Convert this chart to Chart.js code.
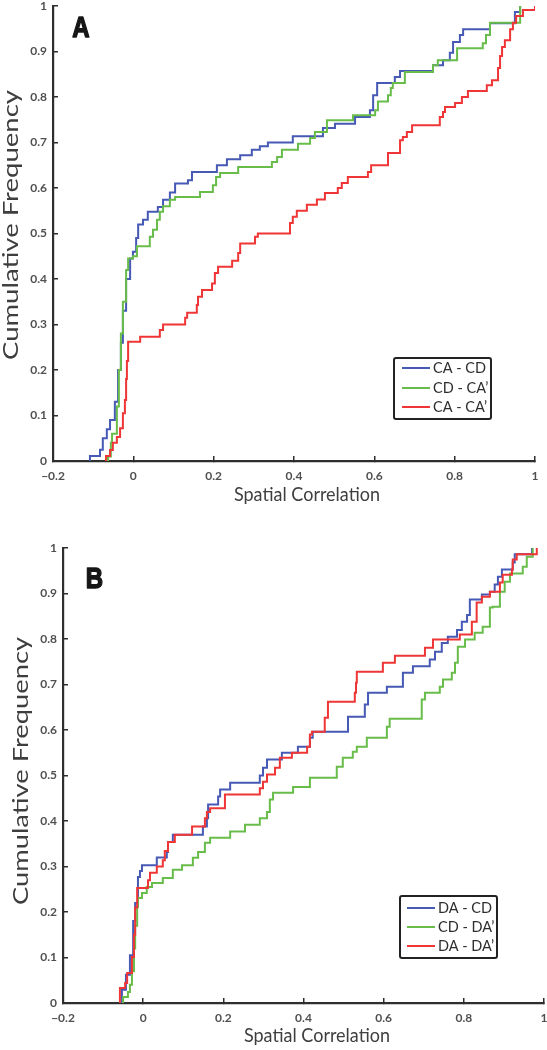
<!DOCTYPE html>
<html><head><meta charset="utf-8">
<script src="https://cdn.jsdelivr.net/npm/chart.js@4/dist/chart.umd.min.js"></script>
<style>
html,body{margin:0;padding:0;background:#fff;}
#wrap{position:relative;width:547px;height:1050px;overflow:hidden;background:#fff;}
canvas{position:absolute;left:0;}
</style></head><body>
<div id="wrap">
<canvas id="cA" width="547" height="520" style="top:0px"></canvas>
<canvas id="cB" width="547" height="530" style="top:520px"></canvas>
</div>
<script>
// ---- tick labels ----
const xTickLabels = ['\u22120.2', '0', '0.2', '0.4', '0.6', '0.8', '1'];
const yTickLabels = ['0', '0.1', '0.2', '0.3', '0.4', '0.5', '0.6', '0.7', '0.8', '0.9', '1'];

// ---- series labels ----
const labelsA = ['CA - CD', 'CD - CA\u2019', 'CA - CA\u2019'];
const labelsB = ['DA - CD', 'CD - DA\u2019', 'DA - DA\u2019'];

// ---- Panel A : CA - CD ----
const aCaCdX = [-0.108,-0.108,-0.083,-0.076,-0.066,-0.058,-0.046,-0.038,-0.031,-0.026,-0.018,-0.008,-0.001,0.007,0.012,0.024,0.036,0.061,0.074,0.091,0.104,0.136,0.146,0.208,0.233,0.266,0.295,0.315,0.335,0.397,0.472,0.502,0.552,0.589,0.597,0.607,0.651,0.664,0.746,0.771,0.788,0.796,0.813,0.821,0.888,0.950,0.963];
const aCaCdY = [0,0.011,0.025,0.05,0.07,0.09,0.13,0.2,0.26,0.33,0.40,0.445,0.46,0.49,0.52,0.53,0.548,0.558,0.574,0.59,0.61,0.617,0.635,0.65,0.663,0.672,0.684,0.692,0.70,0.714,0.732,0.741,0.756,0.771,0.804,0.831,0.844,0.857,0.87,0.881,0.897,0.921,0.936,0.949,0.962,0.987,1.0];
// ---- Panel A : CD - CA' ----
const aCdCaX = [-0.063,-0.063,-0.056,-0.053,-0.041,-0.036,-0.031,-0.026,-0.018,-0.013,-0.001,0.009,0.041,0.049,0.059,0.066,0.074,0.091,0.104,0.166,0.198,0.206,0.216,0.261,0.345,0.358,0.370,0.410,0.440,0.452,0.482,0.547,0.602,0.609,0.634,0.641,0.646,0.676,0.746,0.758,0.806,0.870,0.878,0.888,0.963];
const aCdCaY = [0,0.01,0.04,0.06,0.12,0.2,0.28,0.35,0.42,0.445,0.45,0.472,0.493,0.508,0.53,0.548,0.56,0.574,0.58,0.591,0.606,0.624,0.633,0.646,0.657,0.668,0.684,0.697,0.71,0.723,0.749,0.76,0.771,0.79,0.804,0.82,0.831,0.855,0.87,0.881,0.907,0.918,0.936,0.963,1.0];
// ---- Panel A : CA - CA' ----
const aCaCaX = [-0.068,-0.068,-0.058,-0.051,-0.041,-0.033,-0.026,-0.021,-0.018,-0.016,-0.013,0.017,0.066,0.074,0.129,0.134,0.158,0.161,0.171,0.196,0.203,0.211,0.246,0.261,0.266,0.303,0.310,0.390,0.397,0.407,0.432,0.457,0.477,0.509,0.519,0.534,0.584,0.592,0.634,0.664,0.671,0.681,0.694,0.763,0.771,0.776,0.801,0.818,0.833,0.880,0.893,0.908,0.913,0.918,0.925,0.938,0.945,0.953,0.970,1.0];
const aCaCaY = [0,0.011,0.024,0.04,0.053,0.072,0.105,0.134,0.18,0.22,0.262,0.273,0.288,0.3,0.315,0.326,0.343,0.361,0.376,0.39,0.413,0.427,0.44,0.457,0.478,0.493,0.5,0.523,0.537,0.55,0.563,0.575,0.589,0.6,0.611,0.624,0.635,0.65,0.677,0.705,0.712,0.723,0.738,0.756,0.767,0.778,0.787,0.8,0.813,0.826,0.837,0.864,0.89,0.91,0.925,0.949,0.963,0.978,0.991,1.0];

// ---- Panel B : DA - CD ----
const bDaCdX = [-0.053,-0.053,-0.043,-0.033,-0.025,-0.020,-0.013,-0.008,-0.003,0.034,0.059,0.062,0.074,0.149,0.159,0.162,0.187,0.192,0.217,0.291,0.299,0.309,0.346,0.386,0.416,0.423,0.511,0.553,0.561,0.608,0.648,0.673,0.715,0.728,0.745,0.760,0.783,0.795,0.808,0.815,0.845,0.865,0.877,0.885,0.895,0.922,0.927,0.970];
const bDaCdY = [0,0.029,0.062,0.105,0.18,0.22,0.277,0.29,0.303,0.32,0.332,0.354,0.37,0.388,0.406,0.436,0.454,0.469,0.484,0.50,0.517,0.535,0.55,0.563,0.583,0.596,0.629,0.656,0.682,0.695,0.726,0.74,0.755,0.772,0.791,0.805,0.82,0.838,0.853,0.887,0.898,0.904,0.92,0.937,0.953,0.968,0.986,1.0];
// ---- Panel B : CD - DA' ----
const bCdDaX = [-0.050,-0.050,-0.038,-0.033,-0.028,-0.023,-0.020,-0.015,-0.013,-0.003,0.009,0.022,0.049,0.074,0.097,0.124,0.137,0.154,0.167,0.217,0.254,0.291,0.309,0.316,0.324,0.374,0.416,0.483,0.498,0.523,0.533,0.558,0.608,0.615,0.695,0.703,0.740,0.748,0.770,0.778,0.785,0.803,0.827,0.847,0.865,0.872,0.890,0.902,0.915,0.947,0.957,0.972];
const bCdDaY = [0,0.013,0.024,0.04,0.07,0.12,0.17,0.211,0.231,0.242,0.255,0.264,0.275,0.293,0.303,0.319,0.332,0.352,0.363,0.377,0.392,0.406,0.42,0.447,0.462,0.475,0.495,0.519,0.539,0.552,0.563,0.583,0.607,0.625,0.667,0.682,0.695,0.711,0.726,0.748,0.783,0.799,0.814,0.827,0.869,0.871,0.904,0.926,0.944,0.959,0.981,1.0];
// ---- Panel B : DA - DA' ----
const bDaDaX = [-0.058,-0.058,-0.045,-0.040,-0.028,-0.023,-0.020,-0.015,0.012,0.017,0.034,0.049,0.054,0.062,0.079,0.122,0.154,0.159,0.167,0.204,0.291,0.299,0.309,0.329,0.341,0.371,0.409,0.416,0.421,0.453,0.461,0.528,0.531,0.533,0.598,0.628,0.703,0.723,0.790,0.820,0.832,0.845,0.865,0.890,0.897,0.920,0.922,0.932,0.982];
const bDaDaY = [0,0.033,0.044,0.066,0.101,0.15,0.21,0.253,0.27,0.286,0.3,0.314,0.334,0.354,0.37,0.388,0.406,0.42,0.428,0.458,0.472,0.486,0.502,0.517,0.539,0.55,0.563,0.59,0.596,0.627,0.662,0.682,0.704,0.728,0.748,0.763,0.781,0.799,0.81,0.838,0.88,0.893,0.904,0.924,0.941,0.953,0.975,0.986,1.0];

// ---- styling ----
const BLUE = '#4659b5', GREEN = '#68bd4a', RED = '#ef3535';
const AXIS = '#2e2e2e', TICKTXT = '#505050', TITLE = '#3e3e3e';

const pts = (xs, ys) => xs.map((x, i) => ({x: x, y: ys[i]}));

function ds(label, xs, ys, color, order) {
  return { label, data: pts(xs, ys), borderColor: color, backgroundColor: color,
           borderWidth: 2, pointRadius: 0, pointHoverRadius: 0, stepped: true,
           fill: false, tension: 0, order };
}

const decor = {
  id: 'decor',
  afterDraw(chart, args, o) {
    const ctx = chart.ctx;
    // panel letter
    ctx.save();
    ctx.fillStyle = '#161616';
    ctx.strokeStyle = '#161616';
    ctx.lineWidth = 1.2;
    ctx.lineJoin = 'round';
    ctx.font = 'bold 24px "Liberation Sans", Arial, sans-serif';
    ctx.textAlign = 'center'; ctx.textBaseline = 'alphabetic';
    ctx.translate(o.labelX, o.labelBase); ctx.scale(1, 1.2);
    ctx.fillText(o.label, 0, 0);
    ctx.strokeText(o.label, 0, 0);
    ctx.restore();
    // y title (rotated)
    ctx.save();
    ctx.fillStyle = TITLE;
    ctx.font = '21px Lato, sans-serif';
    const w = ctx.measureText(o.yTitle).width;
    ctx.translate(o.yTitleX, o.yTitleY); ctx.rotate(-Math.PI / 2);
    ctx.scale(o.yTitleLen / w, 1);
    ctx.textAlign = 'center'; ctx.textBaseline = 'alphabetic';
    ctx.fillText(o.yTitle, 0, 0);
    ctx.restore();
    // x title
    ctx.save();
    ctx.fillStyle = TITLE;
    ctx.font = '18px Lato, sans-serif';
    ctx.textAlign = 'center'; ctx.textBaseline = 'alphabetic';
    ctx.translate(o.xTitleX, o.xTitleY); ctx.scale(1, 1.08);
    ctx.fillText(o.xTitle, 0, 0);
    ctx.restore();
    // legend
    const L = o.legend;
    ctx.save();
    ctx.fillStyle = '#ffffff';
    ctx.strokeStyle = '#222222';
    ctx.lineWidth = 2;
    ctx.beginPath();
    if (ctx.roundRect) ctx.roundRect(L.x, L.y, L.w, L.h, 2); else ctx.rect(L.x, L.y, L.w, L.h);
    ctx.fill(); ctx.stroke();
    ctx.beginPath(); ctx.rect(L.x + 1, L.y + 1, L.w - 2, L.h - 2); ctx.clip();
    chart.data.datasets.forEach((d, i) => {
      const y = L.rows[i];
      ctx.strokeStyle = d.borderColor; ctx.lineWidth = 2;
      ctx.beginPath(); ctx.moveTo(L.lineX0, y); ctx.lineTo(L.lineX1, y); ctx.stroke();
      ctx.fillStyle = '#2e2e2e';
      ctx.font = '14.5px Lato, sans-serif';
      ctx.textAlign = 'left'; ctx.textBaseline = 'middle';
      ctx.fillText(d.label, L.textX, y + 0.5);
    });
    ctx.restore();
  }
};

function makeScales(yWidth, xHeight) {
  const zeroPad = s => { s.paddingLeft = 0; s.paddingRight = 0; s.paddingTop = 0; s.paddingBottom = 0; };
  return {
    x: {
      type: 'linear', min: -0.2, max: 1,
      ticks: { stepSize: 0.2, padding: 13, color: TICKTXT, autoSkip: false, maxRotation: 0,
               font: { family: 'Lato', size: 12, weight: 'bold' }, callback: (v, i) => xTickLabels[i] },
      grid: { drawOnChartArea: false, drawTicks: true, tickLength: -5, color: AXIS, lineWidth: 1.5 },
      border: { display: true, color: AXIS, width: 2.2 },
      afterFit: s => { s.height = xHeight; zeroPad(s); }
    },
    y: {
      type: 'linear', min: 0, max: 1,
      ticks: { stepSize: 0.1, padding: 11, color: TICKTXT, autoSkip: false,
               font: { family: 'Lato', size: 12, weight: 'bold' }, callback: (v, i) => yTickLabels[i] },
      grid: { drawOnChartArea: false, drawTicks: true, tickLength: -5, color: AXIS, lineWidth: 1.5 },
      border: { display: true, color: AXIS, width: 2.2 },
      afterFit: s => { s.width = yWidth; zeroPad(s); }
    }
  };
}

function makeChart(id, datasets, pad, yWidth, xHeight, decorOpts) {
  return new Chart(document.getElementById(id), {
    type: 'line',
    data: { datasets },
    options: {
      responsive: false, animation: false, devicePixelRatio: 1,
      layout: { padding: pad },
      scales: makeScales(yWidth, xHeight),
      plugins: { legend: { display: false }, tooltip: { enabled: false }, decor: decorOpts }
    },
    plugins: [decor]
  });
}

makeChart('cA', [
    ds(labelsA[0], aCaCdX, aCaCdY, BLUE, 3),
    ds(labelsA[1], aCdCaX, aCdCaY, GREEN, 2),
    ds(labelsA[2], aCaCaX, aCaCaY, RED, 1)
  ], { left: 0, right: 12, top: 6, bottom: 0 }, 53, 59, {
    label: 'A', labelX: 81, labelBase: 37,
    yTitle: 'Cumulative Frequency', yTitleX: 18, yTitleY: 225, yTitleLen: 270,
    xTitle: 'Spatial Correlation', xTitleX: 307, xTitleY: 501,
    legend: { x: 394, y: 358, w: 97, h: 61, rows: [368, 388, 407], lineX0: 402, lineX1: 430, textX: 433 }
  });

makeChart('cB', [
    ds(labelsB[0], bDaCdX, bDaCdY, BLUE, 3),
    ds(labelsB[1], bCdDaX, bCdDaY, GREEN, 2),
    ds(labelsB[2], bDaDaX, bDaDaY, RED, 1)
  ], { left: 0, right: 3, top: 28, bottom: 0 }, 63, 47, {
    label: 'B', labelX: 94.5, labelBase: 68,
    yTitle: 'Cumulative Frequency', yTitleX: 28, yTitleY: 251, yTitleLen: 268,
    xTitle: 'Spatial Correlation', xTitleX: 317, xTitleY: 522,
    legend: { x: 400, y: 376, w: 97, h: 62, rows: [388, 407, 426], lineX0: 407, lineX1: 435, textX: 438 }
  });
</script>
</body></html>
